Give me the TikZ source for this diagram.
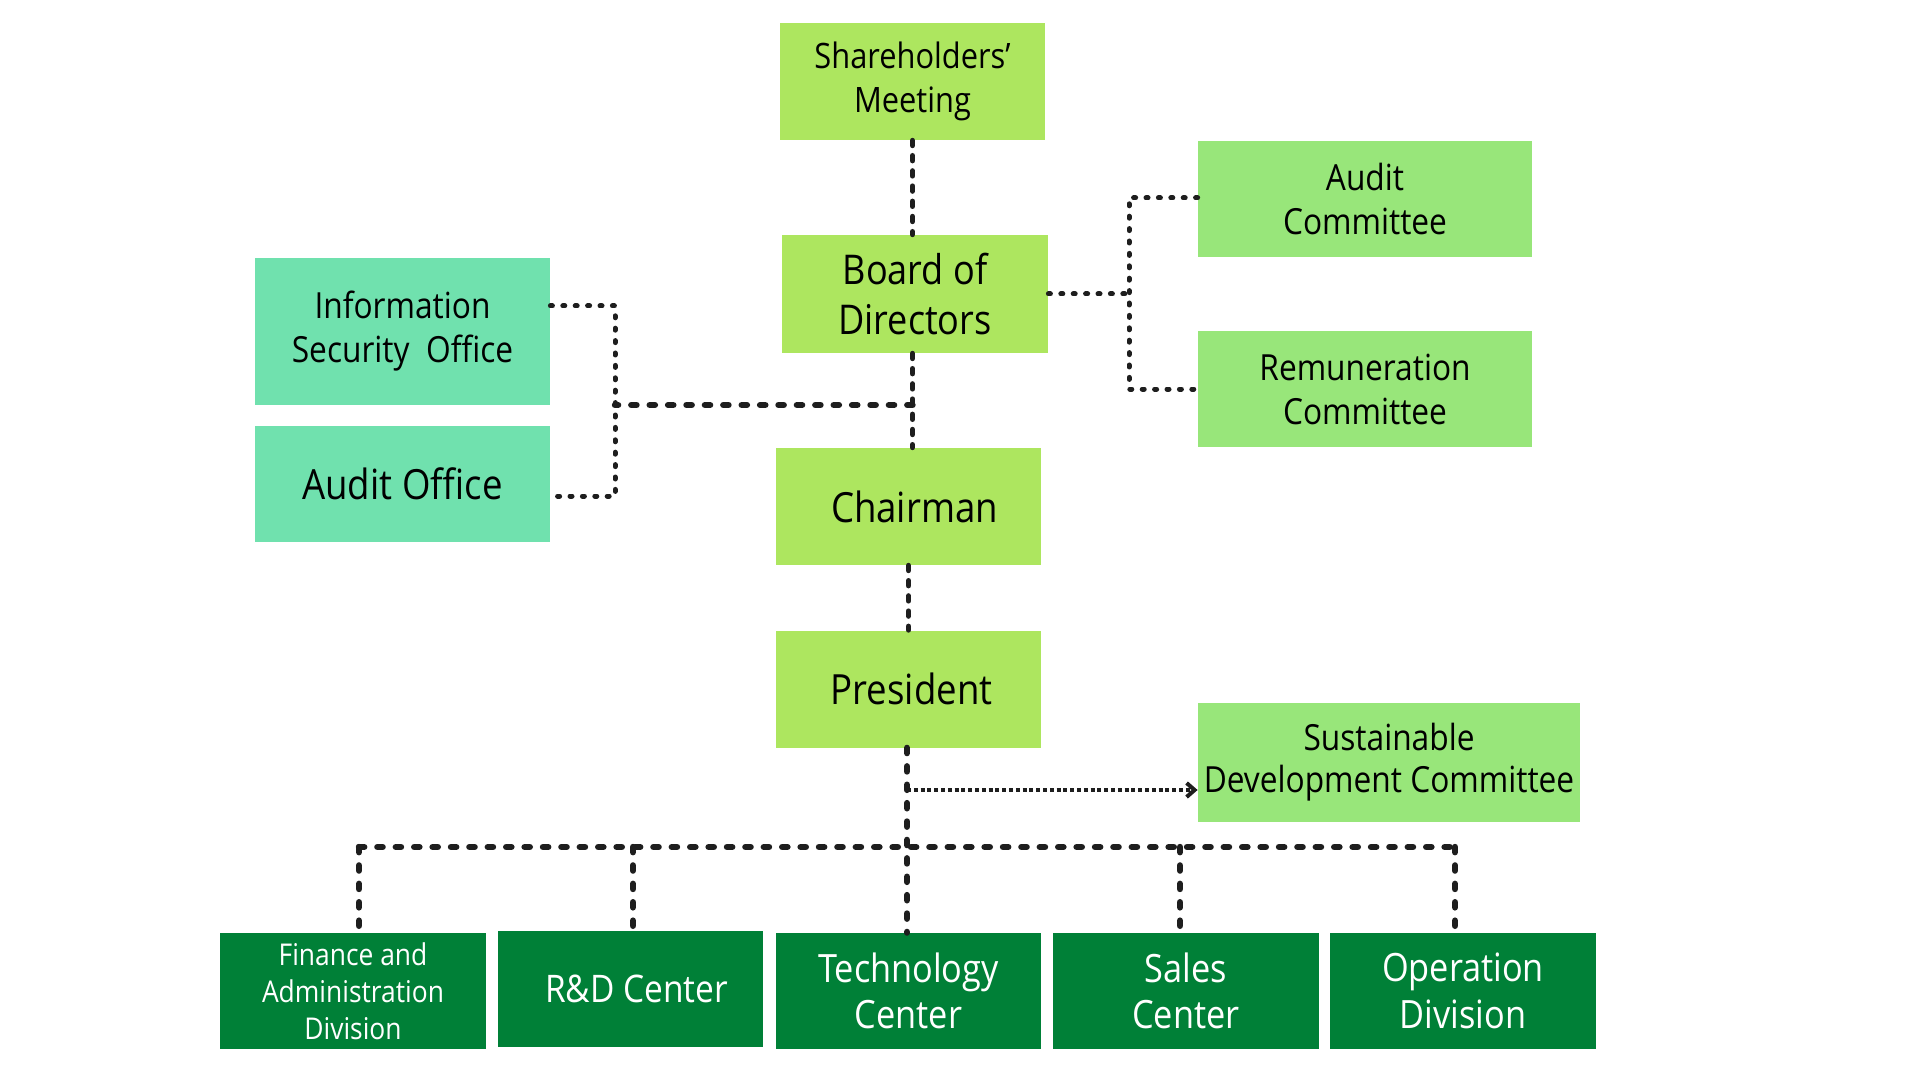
\documentclass[tikz,border=0pt]{standalone}
\usepackage{fontspec}
\setmainfont{Open Sans}[FakeStretch=0.88]
\usetikzlibrary{arrows.meta}
\definecolor{limeg}{HTML}{ADE65F}
\definecolor{commg}{HTML}{98E67A}
\definecolor{tealg}{HTML}{70E1AE}
\definecolor{darkg}{HTML}{008037}
\definecolor{linec}{HTML}{1E1E1E}
\tikzset{
  box/.style={rectangle, inner sep=0pt, align=center, minimum width=132.5pt, minimum height=58.5pt},
  limebox/.style={box, fill=limeg, text=black},
  commbox/.style={box, fill=commg, text=black, minimum width=167pt, minimum height=58pt},
  tealbox/.style={box, fill=tealg, text=black, minimum width=147.5pt},
  darkbox/.style={box, fill=darkg, text=white, minimum width=133pt, minimum height=58pt},
  connheavy/.style={draw=linec, line width=3.2pt, line cap=round, dash pattern=on 2.6pt off 6.6pt},
  connmid/.style={draw=linec, line width=2.6pt, line cap=round, dash pattern=on 2.6pt off 5pt},
  connlight/.style={draw=linec, line width=2.5pt, line cap=round, dash pattern=on 1pt off 5.2pt},
  arrowconn/.style={draw=linec, line width=2pt, dash pattern=on 2pt off 1.4pt, -{Straight Barb[length=4pt, width=7pt, line width=2pt]}},
}
\begin{document}
\begin{tikzpicture}[x=0.5pt, y=-0.5pt]
\useasboundingbox (0,0) rectangle (1920,1080);
% top chain
\node[limebox, font=\fontsize{17.5}{22}\selectfont] (sh) at (912.5,81.5) {Shareholders’\\Meeting};
\node[limebox, minimum width=133pt, minimum height=59pt, font=\fontsize{20.5}{25}\selectfont] (bd) at (915,294) {Board of\\Directors};
\node[limebox, font=\fontsize{20.8}{25}\selectfont] (ch) at (908.5,506.5) {\hspace*{6pt}Chairman};
\node[limebox, font=\fontsize{20.8}{25}\selectfont] (pr) at (908.5,689) {\hspace*{3pt}President};
% committees
\node[commbox, font=\fontsize{18}{22}\selectfont] (ac) at (1365,199) {Audit\\Committee};
\node[commbox, font=\fontsize{18}{22}\selectfont] (rc) at (1365,389) {Remuneration\\Committee};
\node[commbox, minimum width=191pt, minimum height=59.5pt, font=\fontsize{18}{21}\selectfont] (sd) at (1389,762.5) {Sustainable\\Development Committee};
% offices
\node[tealbox, minimum height=73.5pt, font=\fontsize{18}{22}\selectfont] (is) at (402.5,331.5) {Information\\Security\ \ Office};
\node[tealbox, minimum height=58pt, font=\fontsize{20.8}{25}\selectfont] (ao) at (402.5,484) {Audit Office};
% bottom divisions
\node[darkbox, font=\fontsize{15}{18.4}\selectfont] (fa) at (353,991) {Finance and\\Administration\\Division};
\node[darkbox, minimum width=132.5pt, font=\fontsize{19}{23.3}\selectfont] (rd) at (630.5,989) {\hspace*{6pt}R\&D Center};
\node[darkbox, minimum width=132.5pt, font=\fontsize{19.5}{23.3}\selectfont] (tc) at (908.5,991) {Technology\\Center};
\node[darkbox, font=\fontsize{19.5}{23.3}\selectfont] (sc) at (1186,991) {Sales\\Center};
\node[darkbox, font=\fontsize{19.5}{23.3}\selectfont] (od) at (1463,991) {Operation\\Division};
% junction coordinates
\coordinate (j1) at (615,405);
\coordinate (a1) at (615,306);
\coordinate (a2) at (615,496);
\coordinate (b1) at (1129,198);
\coordinate (b2) at (1129,389);
\coordinate (ar) at (907,790);
\coordinate (d1) at (359,847);
\coordinate (d2) at (633,847);
\coordinate (d3) at (907,847);
\coordinate (d4) at (1180,847);
\coordinate (d5) at (1455,847);
% connectors
\draw[connmid] (sh.south) -- (sh.south |- bd.north);
\draw[connmid] (bd.south -| sh.south) -- (ch.north -| sh.south);
\draw[connheavy] (sh.south |- j1) -- (j1);
\draw[connlight] (is.east |- a1) -- (a1) -- (a2) -- (ao.east |- a2);
\draw[connlight] (bd.east) -- (bd.east -| b1);
\draw[connlight] (ac.west |- b1) -- (b1) -- (b2) -- (rc.west |- b2);
\draw[connmid] (ch.south) -- (pr.north);
\draw[connheavy] (pr.south -| d3) -- (tc.north -| d3);
\draw[arrowconn] (ar) -- (ar -| sd.west);
\draw[connheavy] (d1) -- (d5);
\draw[connheavy] (d1) -- (d1 |- fa.north);
\draw[connheavy] (d2) -- (d2 |- rd.north);
\draw[connheavy] (d4) -- (d4 |- sc.north);
\draw[connheavy] (d5) -- (d5 |- od.north);
\end{tikzpicture}
\end{document}
